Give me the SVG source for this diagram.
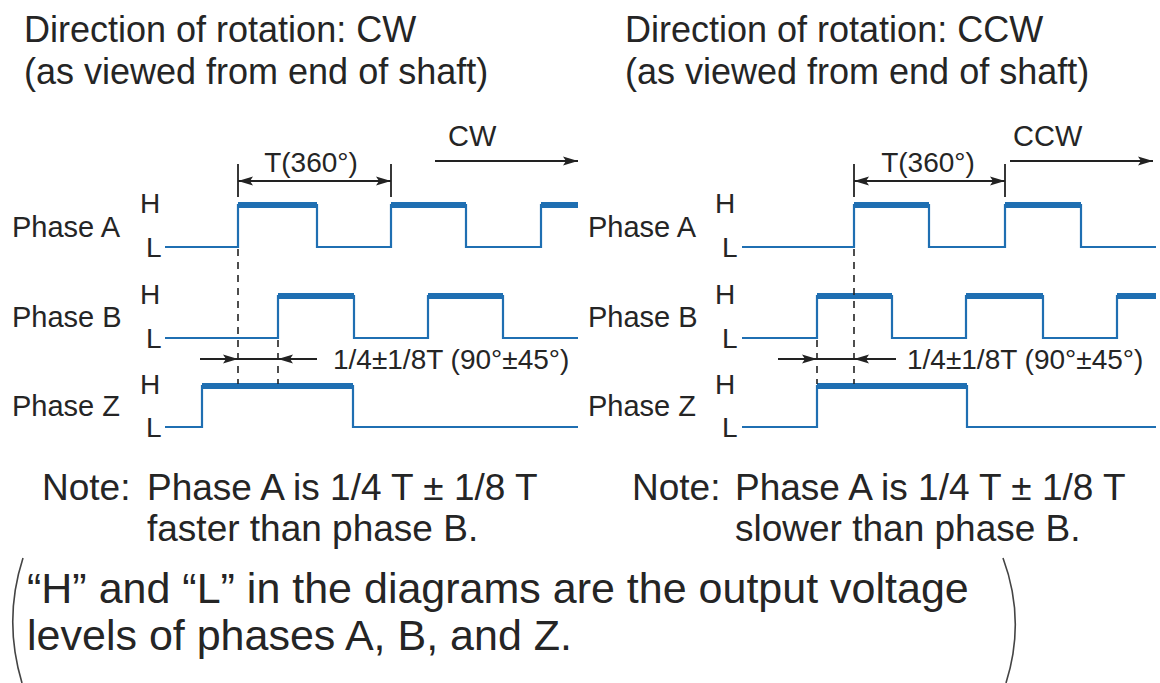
<svg xmlns="http://www.w3.org/2000/svg" width="1160" height="683" viewBox="0 0 1160 683">
<style>
text{font-family:"Liberation Sans",Arial,Helvetica,sans-serif;fill:#252525}
.title{font-size:36px}
.lbl{font-size:29px}
.hl{font-size:28px}
.dim{font-size:28px}
.note{font-size:37px}
.foot{font-size:43px}
.wave{fill:none;stroke:#1f6fb2;stroke-width:2.2}
.hi{fill:none;stroke:#1f6fb2;stroke-width:6}
.dash{stroke:#222;stroke-width:1.6;stroke-dasharray:7 6}
.dl{stroke:#222;stroke-width:1.8;fill:none}
.br{stroke:#444;stroke-width:1.6;fill:none}
</style>
<defs>
<marker id="ah" viewBox="0 0 15 10" refX="15" refY="5" markerWidth="15" markerHeight="10" markerUnits="userSpaceOnUse" orient="auto-start-reverse">
<path d="M0,0.5 L15,5 L0,9.5 L3,5 z" fill="#222"/>
</marker>
</defs>
<rect width="1160" height="683" fill="#fff"/>

<g id="titles">
<text class="title" x="24" y="42">Direction of rotation: CW</text>
<text class="title" x="24" y="84">(as viewed from end of shaft)</text>
<text class="title" x="625" y="42">Direction of rotation: CCW</text>
<text class="title" x="625" y="84">(as viewed from end of shaft)</text>
</g>

<g id="cw-diagram">
<g id="cw-phaseA">
<text class="lbl" x="12" y="237">Phase A</text>
<text class="hl" x="140" y="213">H</text>
<text class="hl" x="146" y="257">L</text>
<path class="wave" d="M165,247 H238 V205 H317 V247 H391 V205 H466 V247 H541 V205 H578"/>
<path class="hi" d="M238,205 H317 M391,205 H466 M541,205 H578"/>
</g>
<g id="cw-phaseB">
<text class="lbl" x="12" y="327">Phase B</text>
<text class="hl" x="140" y="304">H</text>
<text class="hl" x="146" y="348">L</text>
<path class="wave" d="M165,338 H278 V296 H354 V338 H428 V296 H503 V338 H578"/>
<path class="hi" d="M278,296 H354 M428,296 H503"/>
</g>
<g id="cw-phaseZ">
<text class="lbl" x="12" y="416">Phase Z</text>
<text class="hl" x="140" y="394">H</text>
<text class="hl" x="146" y="437">L</text>
<path class="wave" d="M165,427 H202 V386 H353 V427 H578"/>
<path class="hi" d="M202,386 H353"/>
</g>
<g id="cw-labels">
<text class="dim" x="311" y="172" text-anchor="middle">T(360°)</text>
<text class="lbl" x="448" y="146">CW</text>
<text class="dim" x="333" y="369">1/4±1/8T (90°±45°)</text>
</g>
</g>

<g id="ccw-diagram">
<g id="ccw-phaseA">
<text class="lbl" x="588" y="237">Phase A</text>
<text class="hl" x="715" y="213">H</text>
<text class="hl" x="722" y="257">L</text>
<path class="wave" d="M742,247 H854 V205 H929 V247 H1005 V205 H1081 V247 H1156"/>
<path class="hi" d="M854,205 H929 M1005,205 H1081"/>
</g>
<g id="ccw-phaseB">
<text class="lbl" x="588" y="327">Phase B</text>
<text class="hl" x="715" y="304">H</text>
<text class="hl" x="722" y="348">L</text>
<path class="wave" d="M742,338 H817 V296 H892 V338 H966 V296 H1043 V338 H1117 V296 H1156"/>
<path class="hi" d="M817,296 H892 M966,296 H1043 M1117,296 H1156"/>
</g>
<g id="ccw-phaseZ">
<text class="lbl" x="588" y="416">Phase Z</text>
<text class="hl" x="715" y="394">H</text>
<text class="hl" x="722" y="437">L</text>
<path class="wave" d="M742,427 H817 V386 H967 V427 H1156"/>
<path class="hi" d="M817,386 H967"/>
</g>
<g id="ccw-labels">
<text class="dim" x="928" y="172" text-anchor="middle">T(360°)</text>
<text class="lbl" x="1013" y="146">CCW</text>
<text class="dim" x="907" y="369">1/4±1/8T (90°±45°)</text>
</g>
</g>

<g id="connectors">
<line class="dl" x1="238" y1="164" x2="238" y2="197"/>
<line class="dl" x1="391" y1="164" x2="391" y2="197"/>
<line class="dl" x1="238" y1="181" x2="391" y2="181" marker-start="url(#ah)" marker-end="url(#ah)"/>
<line class="dl" x1="435" y1="161" x2="578" y2="161" marker-end="url(#ah)"/>
<line class="dash" x1="238" y1="249" x2="238" y2="384"/>
<line class="dash" x1="278" y1="340" x2="278" y2="384"/>
<line class="dl" x1="200" y1="359" x2="238" y2="359" marker-end="url(#ah)"/>
<line class="dl" x1="238" y1="359" x2="278" y2="359"/>
<line class="dl" x1="317" y1="359" x2="278" y2="359" marker-end="url(#ah)"/>
<line class="dl" x1="854" y1="164" x2="854" y2="197"/>
<line class="dl" x1="1005" y1="164" x2="1005" y2="197"/>
<line class="dl" x1="854" y1="181" x2="1005" y2="181" marker-start="url(#ah)" marker-end="url(#ah)"/>
<line class="dl" x1="1010" y1="161" x2="1153" y2="161" marker-end="url(#ah)"/>
<line class="dash" x1="854" y1="249" x2="854" y2="384"/>
<line class="dash" x1="817" y1="340" x2="817" y2="384"/>
<line class="dl" x1="778" y1="359" x2="817" y2="359" marker-end="url(#ah)"/>
<line class="dl" x1="817" y1="359" x2="854" y2="359"/>
<line class="dl" x1="896" y1="359" x2="854" y2="359" marker-end="url(#ah)"/>
</g>

<g id="notes">
<text class="note" x="42" y="500">Note:</text>
<text class="note" x="147" y="500">Phase A is 1/4 T ± 1/8 T</text>
<text class="note" x="147" y="541">faster than phase B.</text>
<text class="note" x="632" y="500">Note:</text>
<text class="note" x="735" y="500">Phase A is 1/4 T ± 1/8 T</text>
<text class="note" x="735" y="541">slower than phase B.</text>
</g>

<g id="footnote">
<path class="br" d="M23,558 Q3,620 22,683"/>
<path class="br" d="M1003,558 Q1026,620 1006,683"/>
<text class="foot" x="27" y="603">“H” and “L” in the diagrams are the output voltage</text>
<text class="foot" x="27" y="650">levels of phases A, B, and Z.</text>
</g>
</svg>
